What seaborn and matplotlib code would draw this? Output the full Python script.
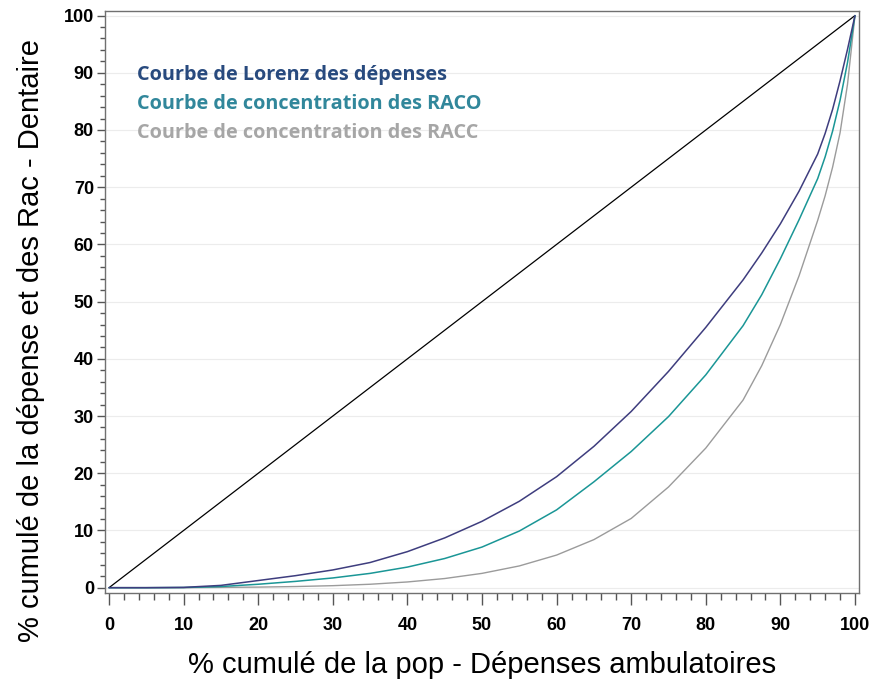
import numpy as np
import pandas as pd
import matplotlib
matplotlib.use("Agg")
import matplotlib.pyplot as plt
import seaborn as sns
from matplotlib.ticker import MultipleLocator

# ---- data ----
pop_pct = [0, 5, 10, 15, 20, 25, 30, 35, 40, 45, 50, 55, 60, 65, 70, 75, 80, 85,
           87.5, 90, 92.5, 95, 96, 97, 98, 99, 100]
lorenz_dep = [0, 0, 0.05, 0.4, 1.25, 2.1, 3.1, 4.4, 6.3, 8.7, 11.6, 15.1, 19.4, 24.7, 30.8, 37.8, 45.5, 53.8,
              58.5, 63.6, 69.3, 75.8, 79.4, 83.6, 88.6, 94.1, 100]
conc_raco = [0, 0, 0.03, 0.2, 0.6, 1.1, 1.7, 2.5, 3.6, 5.1, 7.1, 9.9, 13.6, 18.5, 23.8, 29.9, 37.2, 45.8,
             51.2, 57.5, 64.3, 71.5, 75.3, 79.8, 85.2, 91.8, 100]
conc_racc = [0, 0, 0, 0.05, 0.1, 0.2, 0.35, 0.6, 1.0, 1.6, 2.5, 3.8, 5.7, 8.4, 12.1, 17.6, 24.4, 32.8,
             38.8, 46.0, 54.5, 64.2, 68.5, 73.5, 79.5, 88.0, 100]
diag_x = [0, 100]
diag_y = [0, 100]

labels = ["Courbe de Lorenz des dépenses",
          "Courbe de concentration des RACO",
          "Courbe de concentration des RACC"]
line_colors = ["#3e3d7e", "#1a9696", "#9b9b9b"]
text_colors = ["#284a7e", "#31879b", "#a6a6a6"]

sns.set_style("ticks")
plt.rcParams["font.family"] = ["Liberation Sans", "DejaVu Sans"]

fig = plt.figure(figsize=(8.75, 6.86), dpi=100)
ax = fig.add_axes([105 / 875, 1 - 593 / 686, 754 / 875, 582 / 686])

ax.yaxis.grid(True, color="#ececec", linewidth=0.8)
ax.set_axisbelow(True)

df = pd.DataFrame({"x": pop_pct, "lor": lorenz_dep, "raco": conc_raco, "racc": conc_racc})
sns.lineplot(x=diag_x, y=diag_y, ax=ax, color="black", linewidth=0.9)
sns.lineplot(data=df, x="x", y="racc", ax=ax, color=line_colors[2], linewidth=1.0)
sns.lineplot(data=df, x="x", y="raco", ax=ax, color=line_colors[1], linewidth=1.1)
sns.lineplot(data=df, x="x", y="lor", ax=ax, color=line_colors[0], linewidth=1.1)

ax.set_xlim(-0.54, 100.54)
ax.set_ylim(-0.93, 100.8)
ax.xaxis.set_major_locator(MultipleLocator(10))
ax.xaxis.set_minor_locator(MultipleLocator(2))
ax.yaxis.set_major_locator(MultipleLocator(10))
ax.yaxis.set_minor_locator(MultipleLocator(2))
ax.tick_params(axis="x", which="major", length=8.5, width=1.0, color="#555555",
               labelsize=13, pad=9, labelcolor="black")
ax.tick_params(axis="x", which="minor", length=5, width=1.0, color="#555555")
ax.tick_params(axis="y", which="major", length=6, width=1.0, color="#555555",
               labelsize=13, pad=2, labelcolor="black")
ax.tick_params(axis="y", which="minor", length=3.6, width=1.0, color="#555555")
for lab in ax.get_xticklabels() + ax.get_yticklabels():
    lab.set_fontweight("bold")
for s in ax.spines.values():
    s.set_color("#707070")
    s.set_linewidth(1.0)

ax.set_xlabel("")
ax.set_ylabel("")
fig.text(482 / 875, 1 - 665 / 686, "% cumulé de la pop - Dépenses ambulatoires",
         fontsize=21, color="black", ha="center", va="center")
fig.text(31 / 875, 1 - 340 / 686, "% cumulé de la dépense et des Rac - Dentaire",
         fontsize=21, color="black", ha="center", va="center", rotation=90)

ys = [75, 104, 133]
for lab, c, yp in zip(labels, text_colors, ys):
    fig.text(137 / 875, 1 - yp / 686, lab, color=c, fontsize=14.3, fontweight="bold",
             family=["Open Sans", "DejaVu Sans"], va="center", ha="left")

fig.savefig("out.png", dpi=100)
